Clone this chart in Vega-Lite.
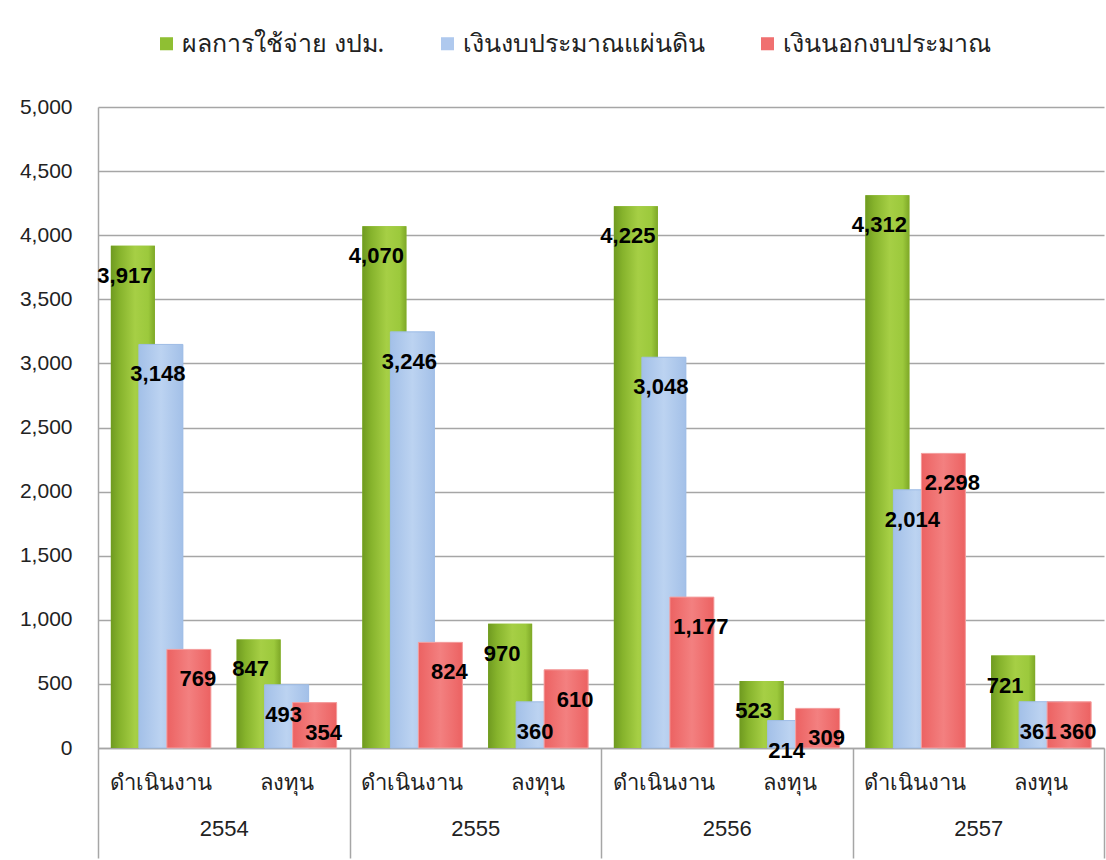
{
  "$schema": "https://vega.github.io/schema/vega-lite/v6.json",
  "width": 1006,
  "height": 641,
  "autosize": {"type": "none"},
  "padding": {"left": 98, "top": 107, "right": 2, "bottom": 112},
  "background": "white",
  "config": {
    "view": {"stroke": null},
    "font": "Liberation Sans",
    "axis": {"labelFont": "Liberation Sans", "labelColor": "#222222"}
  },
  "data": {
    "values": [
      {"year": "2554", "group": "2554 ดำเนินงาน", "series": "ผลการใช้จ่าย งปม.", "value": 3917},
      {"year": "2554", "group": "2554 ดำเนินงาน", "series": "เงินงบประมาณแผ่นดิน", "value": 3148},
      {"year": "2554", "group": "2554 ดำเนินงาน", "series": "เงินนอกงบประมาณ", "value": 769},
      {"year": "2554", "group": "2554 ลงทุน", "series": "ผลการใช้จ่าย งปม.", "value": 847},
      {"year": "2554", "group": "2554 ลงทุน", "series": "เงินงบประมาณแผ่นดิน", "value": 493},
      {"year": "2554", "group": "2554 ลงทุน", "series": "เงินนอกงบประมาณ", "value": 354},
      {"year": "2555", "group": "2555 ดำเนินงาน", "series": "ผลการใช้จ่าย งปม.", "value": 4070},
      {"year": "2555", "group": "2555 ดำเนินงาน", "series": "เงินงบประมาณแผ่นดิน", "value": 3246},
      {"year": "2555", "group": "2555 ดำเนินงาน", "series": "เงินนอกงบประมาณ", "value": 824},
      {"year": "2555", "group": "2555 ลงทุน", "series": "ผลการใช้จ่าย งปม.", "value": 970},
      {"year": "2555", "group": "2555 ลงทุน", "series": "เงินงบประมาณแผ่นดิน", "value": 360},
      {"year": "2555", "group": "2555 ลงทุน", "series": "เงินนอกงบประมาณ", "value": 610},
      {"year": "2556", "group": "2556 ดำเนินงาน", "series": "ผลการใช้จ่าย งปม.", "value": 4225},
      {"year": "2556", "group": "2556 ดำเนินงาน", "series": "เงินงบประมาณแผ่นดิน", "value": 3048},
      {"year": "2556", "group": "2556 ดำเนินงาน", "series": "เงินนอกงบประมาณ", "value": 1177},
      {"year": "2556", "group": "2556 ลงทุน", "series": "ผลการใช้จ่าย งปม.", "value": 523},
      {"year": "2556", "group": "2556 ลงทุน", "series": "เงินงบประมาณแผ่นดิน", "value": 214},
      {"year": "2556", "group": "2556 ลงทุน", "series": "เงินนอกงบประมาณ", "value": 309},
      {"year": "2557", "group": "2557 ดำเนินงาน", "series": "ผลการใช้จ่าย งปม.", "value": 4312},
      {"year": "2557", "group": "2557 ดำเนินงาน", "series": "เงินงบประมาณแผ่นดิน", "value": 2014},
      {"year": "2557", "group": "2557 ดำเนินงาน", "series": "เงินนอกงบประมาณ", "value": 2298},
      {"year": "2557", "group": "2557 ลงทุน", "series": "ผลการใช้จ่าย งปม.", "value": 721},
      {"year": "2557", "group": "2557 ลงทุน", "series": "เงินงบประมาณแผ่นดิน", "value": 361},
      {"year": "2557", "group": "2557 ลงทุน", "series": "เงินนอกงบประมาณ", "value": 360}
    ]
  },
  "layer": [
    {
      "mark": {"type": "bar", "opacity": 0},
      "encoding": {
        "x": {
          "field": "year", "type": "nominal", "sort": null,
          "scale": {"paddingInner": 0, "paddingOuter": 0},
          "axis": {
            "title": null, "orient": "bottom", "offset": 0, "domain": false, "grid": false,
            "ticks": true, "tickBand": "extent", "tickSize": 110, "tickColor": "#a6a6a6", "tickWidth": 1.5,
            "labelPadding": -40, "labelFontSize": 22, "labelAngle": 0, "labelColor": "#222222"
          }
        }
      }
    },
    {
      "encoding": {
        "x": {
          "field": "group", "type": "nominal", "sort": null,
          "scale": {"paddingInner": 0.332, "paddingOuter": 0.166},
          "axis": {
            "title": null, "orient": "bottom", "offset": 0, "labelExpr": "split(datum.label, ' ')[1]", "labelAngle": 0,
            "labelFontSize": 22, "labelPadding": 24, "ticks": false,
            "domainColor": "#a6a6a6", "domainWidth": 1.5, "labelFont": "Noto Sans"
          }
        },
        "xOffset": {
          "field": "series", "type": "nominal",
          "sort": ["ผลการใช้จ่าย งปม.", "เงินงบประมาณแผ่นดิน", "เงินนอกงบประมาณ"],
          "scale": {"paddingInner": 0, "paddingOuter": 0}
        },
        "y": {
          "field": "value", "type": "quantitative",
          "scale": {"domain": [0, 5000], "nice": false},
          "axis": {
            "title": null, "values": [0, 500, 1000, 1500, 2000, 2500, 3000, 3500, 4000, 4500, 5000],
            "format": ",.0f", "ticks": false, "labelPadding": 26, "labelFontSize": 21,
            "gridColor": "#a6a6a6", "gridWidth": 1.5, "domainColor": "#a6a6a6", "domainWidth": 1.5
          }
        }
      },
      "layer": [
        {
          "mark": {"type": "bar", "width": 44},
          "encoding": {
            "color": {
              "field": "series", "type": "nominal",
              "sort": ["ผลการใช้จ่าย งปม.", "เงินงบประมาณแผ่นดิน", "เงินนอกงบประมาณ"],
              "scale": {
                "domain": ["ผลการใช้จ่าย งปม.", "เงินงบประมาณแผ่นดิน", "เงินนอกงบประมาณ"],
                "range": ["#8fbf33", "#afc9ee", "#f07070"]
              },
              "legend": {
                "title": null, "orient": "none", "legendX": 56, "legendY": -76,
                "direction": "horizontal", "symbolType": "square", "symbolSize": 170,
                "symbolStrokeWidth": 0, "labelFontSize": 25, "labelFont": "Noto Sans",
                "columnPadding": 50, "labelOffset": 3, "labelColor": "#222222", "labelLimit": 400
              }
            }
          }
        },
        {
          "transform": [{"filter": "datum.series === 'ผลการใช้จ่าย งปม.'"}],
          "mark": {"type": "bar", "width": 44, "fill": {"gradient": "linear", "x1": 0, "y1": 0, "x2": 1, "y2": 0, "stops": [
            {"offset": 0, "color": "#6f9a20"}, {"offset": 0.2, "color": "#86b32c"},
            {"offset": 0.55, "color": "#a6cf45"}, {"offset": 0.85, "color": "#9cc93c"}, {"offset": 1, "color": "#7ea827"}]}}
        },
        {
          "transform": [{"filter": "datum.series === 'เงินงบประมาณแผ่นดิน'"}],
          "mark": {"type": "bar", "width": 44, "stroke": "#9fbde6", "strokeWidth": 1, "fill": {"gradient": "linear", "x1": 0, "y1": 0, "x2": 1, "y2": 0, "stops": [
            {"offset": 0, "color": "#a3c0e8"}, {"offset": 0.5, "color": "#bcd3f1"}, {"offset": 1, "color": "#a3c0e8"}]}}
        },
        {
          "transform": [{"filter": "datum.series === 'เงินนอกงบประมาณ'"}],
          "mark": {"type": "bar", "width": 44, "stroke": "#f4a0a0", "strokeWidth": 1, "fill": {"gradient": "linear", "x1": 0, "y1": 0, "x2": 1, "y2": 0, "stops": [
            {"offset": 0, "color": "#ec6262"}, {"offset": 0.5, "color": "#f38080"}, {"offset": 1, "color": "#ec6262"}]}}
        },
        {
          "transform": [{"filter": "datum.series === 'ผลการใช้จ่าย งปม.'"}],
          "mark": {"type": "text", "baseline": "middle", "dy": 30, "dx": -8, "fontSize": 22, "fontWeight": "bold", "font": "Liberation Sans", "color": "#000000"},
          "encoding": {"text": {"field": "value", "type": "quantitative", "format": ","}}
        },
        {
          "transform": [{"filter": "datum.series === 'เงินงบประมาณแผ่นดิน'"}],
          "mark": {"type": "text", "baseline": "middle", "dy": 30, "dx": -3, "fontSize": 22, "fontWeight": "bold", "font": "Liberation Sans", "color": "#000000"},
          "encoding": {"text": {"field": "value", "type": "quantitative", "format": ","}}
        },
        {
          "transform": [{"filter": "datum.series === 'เงินนอกงบประมาณ'"}],
          "mark": {"type": "text", "baseline": "middle", "dy": 30, "dx": 9, "fontSize": 22, "fontWeight": "bold", "font": "Liberation Sans", "color": "#000000"},
          "encoding": {"text": {"field": "value", "type": "quantitative", "format": ","}}
        }
      ]
    }
  ],
  "resolve": {"scale": {"x": "independent"}, "axis": {"x": "independent"}}
}
